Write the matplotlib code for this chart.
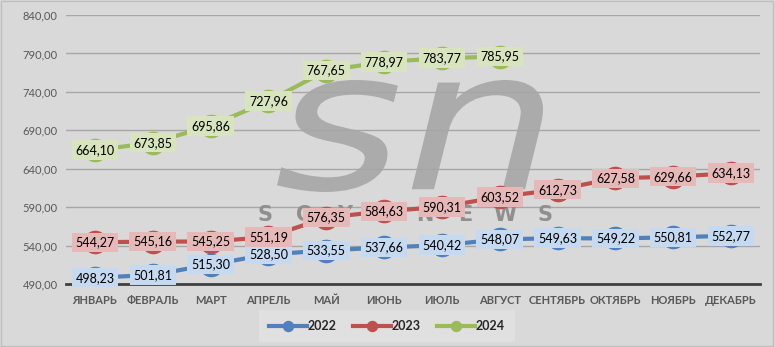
import matplotlib.pyplot as plt
import numpy as np
from matplotlib.textpath import TextPath
from matplotlib.patches import PathPatch
from matplotlib.font_manager import FontProperties
from matplotlib.transforms import Affine2D

months = ['ЯНВАРЬ', 'ФЕВРАЛЬ', 'МАРТ', 'АПРЕЛЬ', 'МАЙ', 'ИЮНЬ', 'ИЮЛЬ',
          'АВГУСТ', 'СЕНТЯБРЬ', 'ОКТЯБРЬ', 'НОЯБРЬ', 'ДЕКАБРЬ']
v2022 = [498.23, 501.81, 515.30, 528.50, 533.55, 537.66, 540.42, 548.07,
         549.63, 549.22, 550.81, 552.77]
v2023 = [544.27, 545.16, 545.25, 551.19, 576.35, 584.63, 590.31, 603.52,
         612.73, 627.58, 629.66, 634.13]
v2024 = [664.10, 673.85, 695.86, 727.96, 767.65, 778.97, 783.77, 785.95]
yticks = [490, 540, 590, 640, 690, 740, 790, 840]

series = [
    ('2022', v2022, '#4f81bd', '#c5d9f1'),
    ('2023', v2023, '#c0504d', '#e6b9b8'),
    ('2024', v2024, '#9bbb59', '#d7e4bd'),
]

plt.rcParams['font.family'] = ['Lato', 'DejaVu Sans']

bg = '#d9d9d9'
W, H = 775, 347
fig = plt.figure(figsize=(W / 100, H / 100), dpi=100, facecolor=bg)
ax = fig.add_axes([66 / W, 1 - 284 / H, 694 / W, 269 / H])
ax.set_facecolor(bg)


def fig_box(x0, y0, x1, y1):
    # pixel box (from top-left) -> figure fraction
    return x0 / W, 1 - y1 / H, x1 / W, 1 - y0 / H


# watermark "sn" fitted into a box
tp = TextPath((0, 0), 'sn', size=1,
              prop=FontProperties(family='DejaVu Sans', style='italic'))
ext = tp.get_extents()
fx0, fy0, fx1, fy1 = fig_box(277, 80, 543, 192)
tr = (Affine2D().translate(-ext.x0, -ext.y0)
      .scale((fx1 - fx0) / ext.width, (fy1 - fy0) / ext.height)
      .translate(fx0, fy0) + fig.transFigure)
ax.add_patch(PathPatch(tp, transform=tr, fc='#ababab', ec='none', zorder=0.5))

for i, ch in enumerate('SOYANEWS'):
    ax.text((265 + 40 * i) / W, 1 - 215 / H, ch, transform=fig.transFigure,
            fontsize=15, fontweight='bold', color='#8f8f8f', ha='center',
            va='center', family='DejaVu Sans', zorder=0.6)

x = np.arange(len(months))
for name, vals, col, fill in series:
    xs = x[:len(vals)]
    ax.plot(xs, vals, color=col, lw=3, marker='o', ms=16, label=name, zorder=3)
    for xi, v in zip(xs, vals):
        ax.text(xi, v, f'{v:.2f}'.replace('.', ','), ha='center', va='center',
                fontsize=9, color='black', zorder=5,
                bbox=dict(boxstyle='square,pad=0.3', fc=fill, ec='none'))

ax.set_xlim(-0.5, len(months) - 0.5)
ax.set_ylim(490, 840)
ax.set_yticks(yticks)
ax.set_yticklabels([f'{t:.2f}'.replace('.', ',') for t in yticks])
ax.set_xticks(x)
ax.set_xticklabels(months, fontweight='bold')
ax.tick_params(length=0, labelsize=8, colors='#595959')
ax.tick_params(axis='x', pad=8)
ax.tick_params(axis='y', pad=6)
ax.grid(axis='y', color='#a6a6a6', lw=1)
ax.set_axisbelow(True)
for s in ['top', 'right', 'left']:
    ax.spines[s].set_visible(False)
ax.spines['bottom'].set_color('#404040')
ax.spines['bottom'].set_linewidth(2)

leg = fig.legend(loc='center', bbox_to_anchor=(387 / W, 1 - 326 / H), ncol=3,
                 frameon=True, fontsize=9, markerscale=0.45, handlelength=3.0,
                 columnspacing=1.3, handletextpad=0.1, borderpad=0.5)
leg.get_frame().set_facecolor('#e3e3e3')
leg.get_frame().set_edgecolor('none')
leg.get_frame().set_boxstyle('square')
for t in leg.get_texts():
    t.set_fontweight('bold')
    t.set_color('#262626')

fig.patches.append(plt.Rectangle((0.001, 0.002), 0.997, 0.995, transform=fig.transFigure,
                                 fill=False, ec='#bfbfbf', lw=1))
fig.savefig('out.png', dpi=100, facecolor=bg)
